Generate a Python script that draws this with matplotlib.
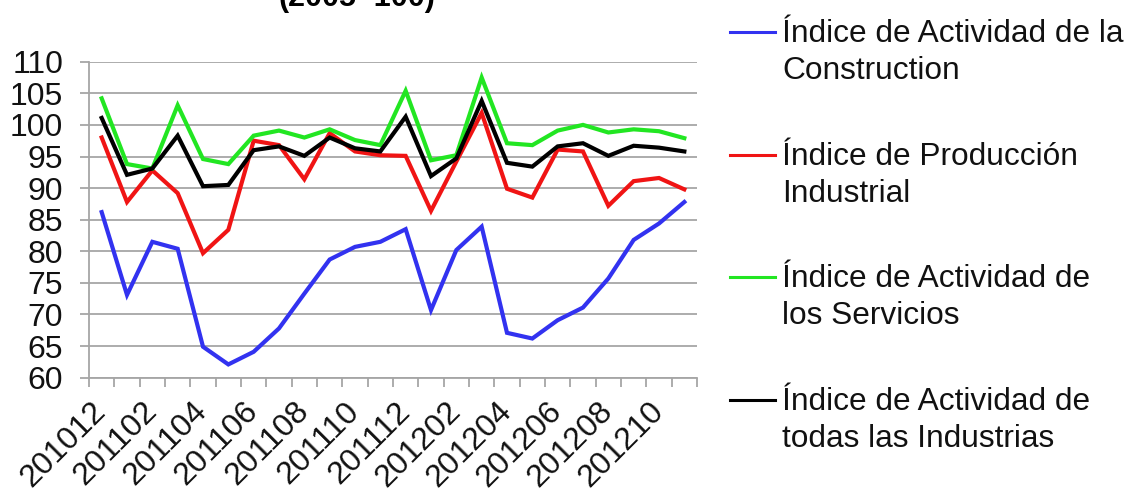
import matplotlib.pyplot as plt
from matplotlib.lines import Line2D
import numpy as np

plt.rcParams['font.family'] = ['Liberation Sans', 'DejaVu Sans']

# monthly periods, 201012 .. 201211
periods = ['201012', '201101', '201102', '201103', '201104', '201105', '201106', '201107',
           '201108', '201109', '201110', '201111', '201112', '201201', '201202', '201203',
           '201204', '201205', '201206', '201207', '201208', '201209', '201210', '201211']

construccion = [86.2, 73.1, 81.5, 80.4, 64.9, 62.1, 64.1, 67.8, 73.3, 78.7, 80.7, 81.5,
                83.5, 70.7, 80.2, 83.9, 67.1, 66.2, 69.1, 71.1, 75.7, 81.8, 84.4, 87.8]
industrial = [98.0, 87.8, 92.8, 89.2, 79.7, 83.4, 97.5, 96.8, 91.4, 98.7, 95.8, 95.2,
              95.1, 86.4, 94.2, 101.9, 89.9, 88.5, 96.1, 95.8, 87.2, 91.1, 91.6, 89.8]
servicios = [104.2, 93.8, 93.1, 103.1, 94.6, 93.8, 98.3, 99.1, 98.0, 99.3, 97.6, 96.8,
             105.4, 94.4, 95.2, 107.5, 97.1, 96.8, 99.1, 100.0, 98.8, 99.3, 99.0, 97.9]
todas = [101.1, 92.1, 93.1, 98.3, 90.3, 90.5, 96.0, 96.6, 95.1, 98.0, 96.3, 95.8,
         101.3, 91.9, 94.7, 103.8, 94.0, 93.4, 96.6, 97.1, 95.1, 96.7, 96.4, 95.8]

series = [
    (construccion, '#3232f0', ['Índice de Actividad de la', 'Construction']),
    (industrial, '#f01414', ['Índice de Producción', 'Industrial']),
    (servicios, '#22e622', ['Índice de Actividad de', 'los Servicios']),
    (todas, '#000000', ['Índice de Actividad de', 'todas las Industrias']),
]

W, H = 1126, 491
fig = plt.figure(figsize=(W / 100, H / 100), dpi=100)
ax = fig.add_axes([89 / W, 1 - 377.7 / H, (697 - 89) / W, (377.7 - 61.7) / H])

x = np.arange(len(periods))
for vals, col, _ in series:
    ax.plot(x, vals, color=col, lw=3.0, solid_joinstyle='miter')

grid_col = '#a6a6a6'
ax.set_ylim(60, 110)
ax.set_yticks(np.arange(60, 111, 5))
ax.yaxis.grid(True, color=grid_col, lw=1.3)
ax.set_axisbelow(True)
ax.set_xlim(-0.5, len(periods) - 0.5)

# labels every second month, tick marks between categories
ax.set_xticks(x[::2])
ax.set_xticklabels(periods[::2], rotation=45, ha='right', va='center',
                   rotation_mode='anchor')
ax.set_xticks(np.arange(-0.5, len(periods), 1), minor=True)
ax.tick_params(axis='x', which='major', length=0, pad=21, labelsize=23,
               labelcolor='#111111')
ax.tick_params(axis='x', which='minor', length=6.5, width=1.3, color=grid_col)
ax.tick_params(axis='y', length=6.5, width=1.3, color=grid_col, pad=12,
               labelsize=23, labelcolor='#111111')

for s in ['top', 'right']:
    ax.spines[s].set_visible(False)
for s in ['left', 'bottom']:
    ax.spines[s].set_color(grid_col)
    ax.spines[s].set_linewidth(1.3)

fig.text(357 / W, 1 - 6 / H, '(2005=100)', ha='center', va='baseline',
         fontsize=22, fontweight='bold')

# legend on the right, handle beside the first text line
baselines = [42, 165, 287, 410]
for (vals, col, lines), base in zip(series, baselines):
    ym = 1 - (base - 10) / H
    fig.add_artist(Line2D([730 / W, 775 / W], [ym, ym], color=col, lw=2.2,
                          transform=fig.transFigure))
    for k, txt in enumerate(lines):
        fig.text(782 / W, 1 - (base + 37 * k) / H, txt, ha='left',
                 va='baseline', fontsize=22.8, color='#111111')

fig.savefig('out.png', dpi=100)
